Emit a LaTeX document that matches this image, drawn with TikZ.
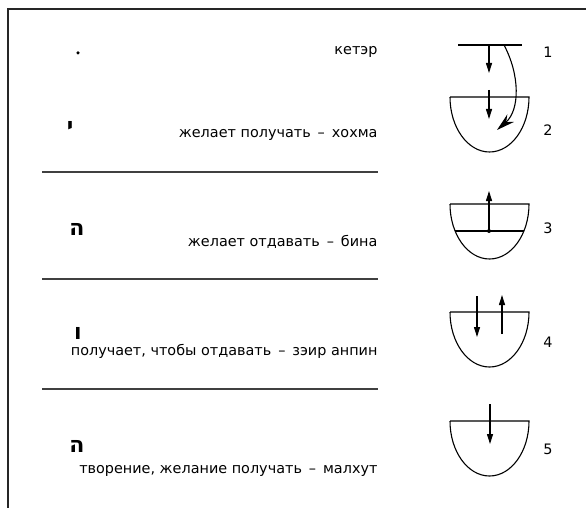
\documentclass[tikz,border=0pt]{standalone}
\usepackage{fontspec}
\setmainfont{DejaVu Sans}
\newfontfamily\hebfont[Script=Hebrew]{DejaVu Sans}
\usetikzlibrary{arrows.meta}
\newcommand{\letr}[1]{{\fontsize{22}{22}\selectfont\hebfont\bfseries #1}}
\newcommand{\txt}{\fontsize{14.4}{16}\selectfont}

\begin{document}
\begin{tikzpicture}[x=1pt,y=-1pt, line width=1.1pt,
    label/.style={font=\txt, inner sep=0pt, anchor=base east},
    num/.style={font=\txt, inner sep=0pt},
    letter/.style={inner sep=0pt},
    flow/.style={-{Triangle[length=10pt,width=6pt]}},
    bigflow/.style={-{Stealth[length=18pt,width=10pt]}}]
\useasboundingbox (0,0) rectangle (586,508);

% frame
\draw[line width=2.2pt, black!85] (8,508) -- (8,9) -- (586,9);

% dividers
\foreach \y in {172, 279, 389}
{
    \draw[black!75, line width=1.3pt] (42,\y) -- (378,\y);
}

% vessels
\foreach \y in {97, 204, 312, 421}
{
    \draw (450,\y) -- (529,\y) .. controls (529,\y+30.4) and (511.3,\y+55) .. (489.5,\y+55)
        .. controls (467.7,\y+55) and (450,\y+30.4) .. (450,\y);
}
\draw (458,45) -- (522,45);
\draw (455,231) -- (524,231);

% letters
\node[circle, fill, inner sep=0pt, minimum size=3.5pt] (point) at (78,53) {};
\node[letter] (yud) at (70,127) {\letr{י}};
\node[letter] (hey) at (77,229) {\letr{ה}};
\node[letter] (vav) at (78,333) {\letr{ו}};
\node[letter] (heylast) at (77,446) {\letr{ה}};

% labels
\node[label] (keter) at (378,54.5) {кетэр};
\node[label] (hochma) at (378,138) {желает получать \,–\, хохма};
\node[label] (bina) at (378,246) {желает отдавать \,–\, бина};
\node[label] (za) at (378,355) {получает, чтобы отдавать \,–\, зэир анпин};
\node[label] (malchut) at (378,473) {творение, желание получать \,–\, малхут};

\node[num] (n1) at (548,52) {1};
\node[num] (n2) at (548,130) {2};
\node[num] (n3) at (548,228) {3};
\node[num] (n4) at (548,342) {4};
\node[num] (n5) at (548,449) {5};

% arrows
\coordinate (k1) at (489,45);
\coordinate (k1e) at (489,73);
\coordinate (k2) at (504,45);
\coordinate (k2e) at (497,130);
\coordinate (h1) at (489,90);
\coordinate (h1e) at (489,119);
\node[circle, fill, inner sep=0pt, minimum size=4pt] (b1) at (489,231) {};
\coordinate (b1e) at (489,191);
\coordinate (z1) at (477,296);
\coordinate (z1e) at (477,337);
\coordinate (z2) at (502,334);
\coordinate (z2e) at (502,295);
\coordinate (m1) at (490,404);
\coordinate (m1e) at (490,444);

\draw[flow] (k1) -- (k1e);
\draw[bigflow] (k2) .. controls (520,75) and (520,110) .. (k2e);
\draw[flow] (h1) -- (h1e);
\draw[flow] (b1.center) -- (b1e);
\draw[flow] (z1) -- (z1e);
\draw[flow] (z2) -- (z2e);
\draw[flow] (m1) -- (m1e);
\end{tikzpicture}
\end{document}
